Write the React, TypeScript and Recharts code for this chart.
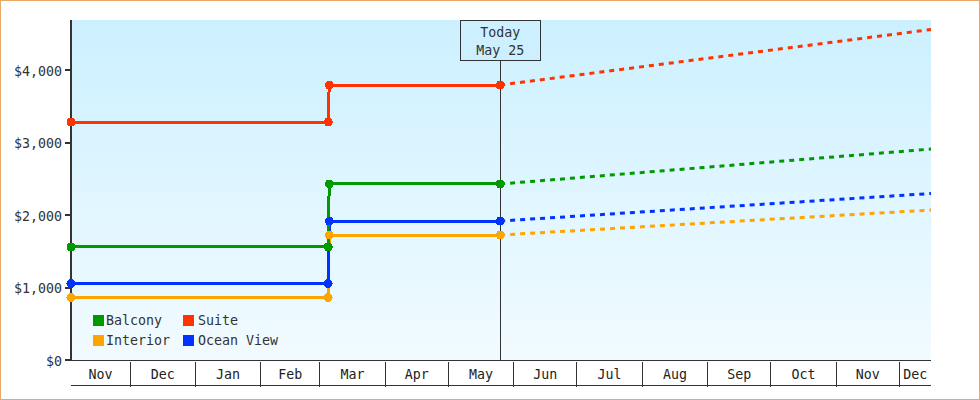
import { LineChart, Line, XAxis, YAxis, ReferenceArea, ReferenceLine, Legend } from 'recharts';

// x values are days counted from the left edge of the chart (early Nov)
const monthLabels = ['Nov', 'Dec', 'Jan', 'Feb', 'Mar', 'Apr', 'May', 'Jun', 'Jul', 'Aug', 'Sep', 'Oct', 'Nov', 'Dec'];
const monthStarts = [0, 28, 59, 90, 118, 149, 179, 210, 240, 271, 302, 332, 363, 393];
const lastDay = 408;
const stepDay = 122;
const todayDay = 203.6;

const yTicks = [0, 1000, 2000, 3000, 4000];
const yMax = 4690;

const seriesNames = ['Interior', 'Ocean View', 'Balcony', 'Suite'];
const seriesColors = ['#ffa500', '#0033ff', '#009900', '#ff3300'];
const priceBefore = [862, 1055, 1559, 3283];
const priceAfter = [1724, 1917, 2428, 3793];
const priceEnd = [2069, 2297, 2910, 4559];

const legendOrder = ['Balcony', 'Suite', 'Interior', 'Ocean View'];

const monthMids = monthStarts.map((d, i) => (d + (i < monthStarts.length - 1 ? monthStarts[i + 1] : lastDay)) / 2);
const FONT = '"DejaVu Sans Mono", monospace';
const FONT_SIZE = 13.3;

const MonthTick = ({ x, y, index }: any) => (
    <text x={x} y={y - 8} textAnchor="middle" fontSize={FONT_SIZE} fontFamily={FONT} fill="#222">
        {monthLabels[index]}
    </text>
);

const EdgeTick = ({ x, y }: any) => <line x1={x} x2={x} y1={y} y2={y + 25} stroke="#333" />;

const TodayLabel = ({ viewBox }: any) => {
    const cx = viewBox.x;
    const top = viewBox.y;
    return (
        <g>
            <rect x={cx - 40} y={top + 0.5} width={80} height={40} fill="#ccf0ff" stroke="#333" />
            <text x={cx} y={top + 17} textAnchor="middle" fontSize={FONT_SIZE} fontFamily={FONT} fill="#333">Today</text>
            <text x={cx} y={top + 35} textAnchor="middle" fontSize={FONT_SIZE} fontFamily={FONT} fill="#333">May 25</text>
        </g>
    );
};

const LegendBox = () => (
    <div style={{ display: 'grid', gridTemplateColumns: '90px 100px', rowGap: 6, fontFamily: FONT, fontSize: FONT_SIZE, color: '#333', lineHeight: '14px' }}>
        {legendOrder.map((name, i) => (
            <div key={name} style={{ display: 'flex', alignItems: 'center' }}>
                <span style={{ width: 11, height: 11, marginRight: i % 2 ? 4 : 2, background: seriesColors[seriesNames.indexOf(name)] }} />
                <span style={{ position: 'relative', top: 1 }}>{name}</span>
            </div>
        ))}
    </div>
);

export default function App() {
    return (
        <div style={{ position: 'fixed', left: 0, top: 0, width: 980, height: 400, boxSizing: 'border-box', border: '1px solid #e8a868', background: '#fff', shapeRendering: 'crispEdges' }}>
            <LineChart width={978} height={398} margin={{ top: 19, right: 48, bottom: 0, left: 0 }}>
                <defs>
                    <linearGradient id="plotBg" x1="0" y1="0" x2="0" y2="1">
                        <stop offset="0%" stopColor="#ccf0ff" />
                        <stop offset="100%" stopColor="#f2fbff" />
                    </linearGradient>
                </defs>
                <XAxis
                    xAxisId="edges"
                    type="number"
                    dataKey="day"
                    domain={[0, lastDay]}
                    ticks={monthStarts.slice(1)}
                    interval={0}
                    height={25}
                    tickSize={0}
                    tickLine={false}
                    tick={<EdgeTick />}
                    axisLine={{ stroke: '#333' }}
                />
                <XAxis
                    xAxisId="months"
                    type="number"
                    dataKey="day"
                    domain={[0, lastDay]}
                    ticks={monthMids}
                    interval={0}
                    height={14}
                    tickSize={0}
                    tickLine={false}
                    tick={<MonthTick />}
                    axisLine={{ stroke: '#333' }}
                />
                <YAxis
                    type="number"
                    domain={[0, yMax]}
                    ticks={yTicks}
                    interval={0}
                    width={70}
                    tickSize={6}
                    tickMargin={3}
                    tickFormatter={(v: number) => `$${v.toLocaleString('en-US')}`}
                    tick={{ fontSize: FONT_SIZE, fontFamily: FONT, fill: '#333', dy: 1 }}
                    tickLine={{ stroke: '#333', strokeWidth: 2 }}
                    axisLine={{ stroke: '#333', strokeWidth: 2 }}
                />
                <ReferenceArea xAxisId="edges" x1={0} x2={lastDay} y1={0} y2={yMax} fill="url(#plotBg)" fillOpacity={1} stroke="none" />
                <ReferenceLine xAxisId="edges" x={todayDay} stroke="#333" label={<TodayLabel />} />
                <Legend
                    layout="horizontal"
                    align="center"
                    verticalAlign="middle"
                    content={<LegendBox />}
                    wrapperStyle={{ position: 'absolute', left: 92, top: 312, width: 200, bottom: 'auto' }}
                />
                {/* invisible line so the month label axis gets its ticks */}
                <Line
                    xAxisId="months"
                    data={[{ day: 0, price: 0 }, { day: lastDay, price: 0 }]}
                    dataKey="price"
                    stroke="none"
                    dot={false}
                    activeDot={false}
                    legendType="none"
                    isAnimationActive={false}
                />
                {seriesNames.map((name, i) => (
                    <Line
                        key={name}
                        xAxisId="edges"
                        name={name}
                        data={[
                            { day: 0, price: priceBefore[i] },
                            { day: stepDay, price: priceBefore[i] },
                            { day: stepDay + 0.5, price: priceAfter[i] },
                            { day: todayDay, price: priceAfter[i] },
                        ]}
                        dataKey="price"
                        type="linear"
                        stroke={seriesColors[i]}
                        strokeWidth={3}
                        dot={{ r: 4.5, fill: seriesColors[i], stroke: 'none' }}
                        activeDot={false}
                        isAnimationActive={false}
                    />
                ))}
                {seriesNames.map((name, i) => (
                    <Line
                        key={name + ' forecast'}
                        xAxisId="edges"
                        name={name + ' forecast'}
                        data={[
                            { day: todayDay, price: priceAfter[i] },
                            { day: lastDay, price: priceEnd[i] },
                        ]}
                        dataKey="price"
                        type="linear"
                        stroke={seriesColors[i]}
                        strokeWidth={3}
                        strokeDasharray="5 5"
                        style={{ shapeRendering: 'geometricPrecision' }}
                        dot={false}
                        activeDot={false}
                        legendType="none"
                        isAnimationActive={false}
                    />
                ))}
            </LineChart>
        </div>
    );
}
